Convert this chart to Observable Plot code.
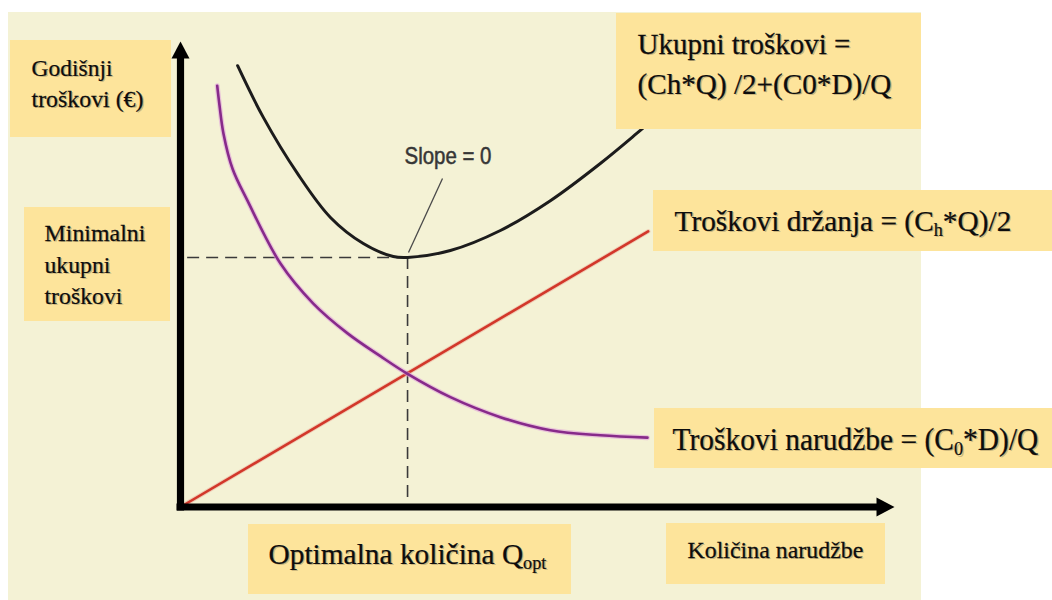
<!DOCTYPE html>
<html>
<head>
<meta charset="utf-8">
<script src="https://cdn.jsdelivr.net/npm/d3@7"></script>
<script src="https://cdn.jsdelivr.net/npm/@observablehq/plot@0.6"></script>
<style>
  html, body { margin: 0; padding: 0; background: #ffffff; }
  #chart svg { display: block; }
</style>
</head>
<body>
<div id="chart"></div>
<script>
// ---------------- DATA (axes run 0..100 in both directions) ----------------
// Ordering cost curve  (C0*D)/Q
const qOrdering    = [5.14, 5.46, 6.02, 7.3, 9.38, 14.0, 18.6, 23.4, 28.0, 31.8, 37.8, 44.8, 51.8, 58.8, 65.4];
const costOrdering = [90.5, 86.3, 80.2, 72.6, 65.8, 52.3, 43.7, 37.3, 32.4, 28.6, 23.6, 19.3, 16.5, 15.4, 14.9];
// Total cost curve
const qTotal    = [8.0, 11.6, 16.4, 21.0, 25.6, 29.8, 31.8, 37.8, 44.8, 51.8, 58.8, 64.4, 69.3];
const costTotal = [94.8, 83.7, 71.6, 62.2, 56.6, 53.8, 53.6, 55.1, 59.4, 65.8, 73.8, 80.9, 87.3];
// Holding cost line  (Ch*Q)/2
const qHolding    = [0, 65.5];
const costHolding = [0, 59.2];
// Optimum
const qOpt = 31.8;
const minTotalCost = 53.6;

// Text labels
const labelTexts = [
  "Godišnji",
  "troškovi (€)",
  "Minimalni",
  "ukupni",
  "troškovi",
  "Ukupni troškovi =",
  "(Ch*Q) /2+(C0*D)/Q",
  "Troškovi držanja = (C_{h}*Q)/2",
  "Troškovi narudžbe = (C_{0}*D)/Q",
  "Optimalna količina Q_{opt}",
  "Količina narudžbe"
];
const slopeText = "Slope = 0";

// ---------------- LAYOUT (pixels) ----------------
const W = 1052, H = 600;
const X = d3.scaleLinear([0, 100], [180, 894]);
const Y = d3.scaleLinear([0, 100], [506.5, 41]);
const bx = p => X.invert(p), by = p => Y.invert(p);

const labelLayout = [
  {px: 31,  py: 75,  size: 24, len: 81},
  {px: 31,  py: 106, size: 24, len: 112},
  {px: 44,  py: 240, size: 24, len: 101},
  {px: 44,  py: 272, size: 24, len: 66},
  {px: 44,  py: 303, size: 24, len: 78},
  {px: 637, py: 53,  size: 29.5, len: 213},
  {px: 637, py: 93,  size: 29.5, len: 254},
  {px: 674, py: 230, size: 30.5, len: 337},
  {px: 672, py: 449, size: 32,   len: 366},
  {px: 268, py: 563, size: 30,   len: 278},
  {px: 687, py: 557, size: 24,   len: 176}
];
const labels = labelTexts.map((text, i) => ({text, ...labelLayout[i]}));
const slopeLabel = [{text: slopeText, px: 404, py: 163, size: 23, len: 87}];

const boxLayout = [
  {x1: 10,  y1: 40,  x2: 171,  y2: 137},
  {x1: 24,  y1: 207, x2: 170,  y2: 321},
  {x1: 616, y1: 13,  x2: 921,  y2: 129},
  {x1: 653, y1: 190, x2: 1052, y2: 251},
  {x1: 654, y1: 408, x2: 1052, y2: 468},
  {x1: 248, y1: 524, x2: 571,  y2: 594},
  {x1: 666, y1: 523, x2: 885,  y2: 584}
];
const panel = [{x1: 8, y1: 12, x2: 921, y2: 600}];
const leader = [{x1: 442, y1: 178, x2: 408, y2: 252}];

// ---------------- TABLES ----------------
const ordering = qOrdering.map((q, i) => ({q, c: costOrdering[i]}));
const total = qTotal.map((q, i) => ({q, c: costTotal[i]}));
const holding = qHolding.map((q, i) => ({q, c: costHolding[i]}));

// arrowhead symbols (tip at the anchor point)
const arrowUp = {draw(ctx) { ctx.moveTo(0, 0); ctx.lineTo(9, 17); ctx.lineTo(-9, 17); ctx.closePath(); }};
const arrowRight = {draw(ctx) { ctx.moveTo(0, 0); ctx.lineTo(-18, -9.5); ctx.lineTo(-18, 9.5); ctx.closePath(); }};

const serif = "'Liberation Serif', 'Times New Roman', Times, serif";
const narrow = "'Liberation Sans Narrow', 'Arial Narrow', 'Liberation Sans', Arial, sans-serif";

const rectOpts = {x1: d => bx(d.x1), x2: d => bx(d.x2), y1: d => by(d.y1), y2: d => by(d.y2)};
const textPos = {x: d => bx(d.px), y: d => by(d.py), text: "text", fontSize: "size", textAnchor: "start", lineAnchor: "bottom"};

const svg = Plot.plot({
  width: W,
  height: H,
  margin: 0,
  style: {background: "#ffffff", overflow: "hidden"},
  x: {domain: [0, 100], range: [180, 894], axis: null},
  y: {domain: [0, 100], range: [506.5, 41], axis: null},
  marks: [
    // cream panel
    Plot.rect(panel, {...rectOpts, fill: "#f4f2d5"}),
    // dashed guides to the optimum
    Plot.ruleY([minTotalCost], {x1: 1, x2: qOpt, stroke: "#3a3a3a", strokeWidth: 1.6, strokeDasharray: "12,7"}),
    Plot.ruleX([qOpt], {y1: minTotalCost, y2: 0, stroke: "#3a3a3a", strokeWidth: 1.6, strokeDasharray: "12,7"}),
    // curves
    Plot.line(holding, {x: "q", y: "c", stroke: "#e9a08f", strokeWidth: 4.5, strokeOpacity: 0.45}),
    Plot.line(holding, {x: "q", y: "c", stroke: "#d2372a", strokeWidth: 2.6}),
    Plot.line(ordering, {x: "q", y: "c", curve: "catmull-rom", stroke: "#de9ada", strokeWidth: 5, strokeOpacity: 0.55}),
    Plot.line(ordering, {x: "q", y: "c", curve: "catmull-rom", stroke: "#872a8a", strokeWidth: 2.6}),
    Plot.line(total, {x: "q", y: "c", curve: "catmull-rom", stroke: "#1c1c1c", strokeWidth: 3}),
    // slope leader line
    Plot.link(leader, {x1: d => bx(d.x1), y1: d => by(d.y1), x2: d => bx(d.x2), y2: d => by(d.y2), stroke: "#4a4a4a", strokeWidth: 1.3}),
    // axes
    Plot.ruleX([0], {y1: by(510.5), y2: by(57), stroke: "#000", strokeWidth: 7.2}),
    Plot.ruleY([0], {x1: bx(176.5), x2: bx(878), stroke: "#000", strokeWidth: 7}),
    Plot.dot([{q: 0, c: 100}], {x: "q", y: "c", symbol: arrowUp, r: 5, fill: "#000", stroke: "none"}),
    Plot.dot([{q: 100, c: 0}], {x: "q", y: "c", symbol: arrowRight, r: 5, fill: "#000", stroke: "none"}),
    // yellow label boxes
    Plot.rect(boxLayout, {...rectOpts, fill: "#fde49b"}),
    // text shadows
    Plot.text(labels, {...textPos, fontFamily: serif, fill: "#7d7150", fillOpacity: 0.4, dx: 1.4, dy: 1.4}),
    // texts
    Plot.text(labels, {...textPos, fontFamily: serif, fill: "#0d0d0d", stroke: "#0d0d0d", strokeWidth: 0.25}),
    Plot.text(slopeLabel, {...textPos, fontFamily: narrow, fill: "#363636", stroke: "#363636", strokeWidth: 0.5})
  ]
});

document.getElementById("chart").appendChild(svg);

// rich text: subscripts and fitted widths (horizontal scale only)
const NS = "http://www.w3.org/2000/svg";
const byText = new Map([...labels, ...slopeLabel].map(a => [a.text, a]));
svg.querySelectorAll("text").forEach(t => {
  const a = byText.get(t.textContent);
  if (!a) return;
  const parts = a.text.split(/(_\{[^}]*\})/).filter(p => p);
  if (parts.length > 1) {
    t.textContent = "";
    const shift = a.size * 0.18;
    let shifted = false;
    for (const p of parts) {
      const ts = document.createElementNS(NS, "tspan");
      const m = p.match(/^_\{([^}]*)\}$/);
      if (m) {
        ts.textContent = m[1];
        ts.setAttribute("font-size", (a.size * 0.62).toFixed(1));
        ts.setAttribute("dy", shift.toFixed(1));
        shifted = true;
      } else {
        ts.textContent = p;
        if (shifted) { ts.setAttribute("dy", (-shift).toFixed(1)); shifted = false; }
      }
      t.appendChild(ts);
    }
  }
  const natural = t.getComputedTextLength();
  if (a.len && natural > 0) {
    const s = a.len / natural;
    const tr = t.getAttribute("transform") || "";
    t.setAttribute("transform", `${tr} scale(${s.toFixed(4)},1)`);
  }
});
</script>
</body>
</html>
